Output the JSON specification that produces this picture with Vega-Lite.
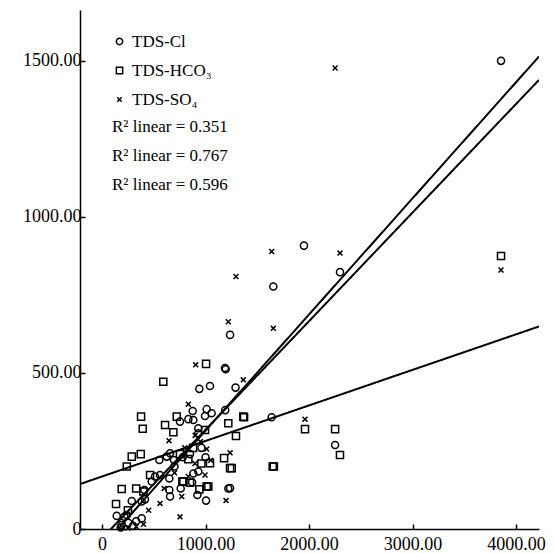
{
  "$schema": "https://vega.github.io/schema/vega-lite/v6.json",
  "width": 459,
  "height": 519,
  "autosize": {"type": "none"},
  "padding": {"left": 80, "top": 10, "right": 15, "bottom": 24},
  "background": "white",
  "datasets": {
    "pts": [
      {"s": "TDS-Cl", "x": 3855, "y": 1500}, {"s": "TDS-Cl", "x": 1951, "y": 908}, {"s": "TDS-Cl", "x": 1655, "y": 777},
      {"s": "TDS-Cl", "x": 2299, "y": 823}, {"s": "TDS-Cl", "x": 1237, "y": 622}, {"s": "TDS-Cl", "x": 1188, "y": 516},
      {"s": "TDS-Cl", "x": 1195, "y": 512}, {"s": "TDS-Cl", "x": 1043, "y": 458}, {"s": "TDS-Cl", "x": 940, "y": 449},
      {"s": "TDS-Cl", "x": 1290, "y": 453}, {"s": "TDS-Cl", "x": 1011, "y": 384}, {"s": "TDS-Cl", "x": 995, "y": 362},
      {"s": "TDS-Cl", "x": 1190, "y": 381}, {"s": "TDS-Cl", "x": 1639, "y": 358}, {"s": "TDS-Cl", "x": 2252, "y": 269},
      {"s": "TDS-Cl", "x": 1237, "y": 131}, {"s": "TDS-Cl", "x": 1220, "y": 130}, {"s": "TDS-Cl", "x": 1005, "y": 91},
      {"s": "TDS-Cl", "x": 876, "y": 378}, {"s": "TDS-Cl", "x": 753, "y": 344}, {"s": "TDS-Cl", "x": 834, "y": 352},
      {"s": "TDS-Cl", "x": 882, "y": 349}, {"s": "TDS-Cl", "x": 1059, "y": 371}, {"s": "TDS-Cl", "x": 930, "y": 307},
      {"s": "TDS-Cl", "x": 930, "y": 323}, {"s": "TDS-Cl", "x": 554, "y": 221}, {"s": "TDS-Cl", "x": 625, "y": 232},
      {"s": "TDS-Cl", "x": 657, "y": 243}, {"s": "TDS-Cl", "x": 695, "y": 221}, {"s": "TDS-Cl", "x": 882, "y": 178},
      {"s": "TDS-Cl", "x": 930, "y": 184}, {"s": "TDS-Cl", "x": 560, "y": 173}, {"s": "TDS-Cl", "x": 650, "y": 162},
      {"s": "TDS-Cl", "x": 650, "y": 125}, {"s": "TDS-Cl", "x": 657, "y": 104}, {"s": "TDS-Cl", "x": 921, "y": 109},
      {"s": "TDS-Cl", "x": 287, "y": 90}, {"s": "TDS-Cl", "x": 383, "y": 88}, {"s": "TDS-Cl", "x": 409, "y": 125},
      {"s": "TDS-Cl", "x": 415, "y": 95}, {"s": "TDS-Cl", "x": 480, "y": 152}, {"s": "TDS-Cl", "x": 512, "y": 168},
      {"s": "TDS-Cl", "x": 142, "y": 42}, {"s": "TDS-Cl", "x": 239, "y": 45}, {"s": "TDS-Cl", "x": 215, "y": 39},
      {"s": "TDS-Cl", "x": 383, "y": 34}, {"s": "TDS-Cl", "x": 190, "y": 13}, {"s": "TDS-Cl", "x": 254, "y": 20},
      {"s": "TDS-Cl", "x": 300, "y": 10}, {"s": "TDS-Cl", "x": 330, "y": 25}, {"s": "TDS-Cl", "x": 180, "y": 5},
      {"s": "TDS-Cl", "x": 850, "y": 240}, {"s": "TDS-Cl", "x": 780, "y": 230}, {"s": "TDS-Cl", "x": 960, "y": 260},
      {"s": "TDS-Cl", "x": 1000, "y": 230}, {"s": "TDS-Cl", "x": 870, "y": 150}, {"s": "TDS-Cl", "x": 760, "y": 130},
      {"s": "TDS-Cl", "x": 700, "y": 200},
      {"s": "TDS-HCO₃", "x": 3855, "y": 875}, {"s": "TDS-HCO₃", "x": 1005, "y": 529}, {"s": "TDS-HCO₃", "x": 592, "y": 472},
      {"s": "TDS-HCO₃", "x": 1372, "y": 358}, {"s": "TDS-HCO₃", "x": 1365, "y": 360}, {"s": "TDS-HCO₃", "x": 1220, "y": 339},
      {"s": "TDS-HCO₃", "x": 1961, "y": 320}, {"s": "TDS-HCO₃", "x": 2252, "y": 320}, {"s": "TDS-HCO₃", "x": 2299, "y": 237},
      {"s": "TDS-HCO₃", "x": 1294, "y": 298}, {"s": "TDS-HCO₃", "x": 1649, "y": 200}, {"s": "TDS-HCO₃", "x": 1660, "y": 200},
      {"s": "TDS-HCO₃", "x": 1253, "y": 195}, {"s": "TDS-HCO₃", "x": 995, "y": 317}, {"s": "TDS-HCO₃", "x": 1179, "y": 227},
      {"s": "TDS-HCO₃", "x": 1043, "y": 211}, {"s": "TDS-HCO₃", "x": 1237, "y": 195}, {"s": "TDS-HCO₃", "x": 1011, "y": 136},
      {"s": "TDS-HCO₃", "x": 377, "y": 360}, {"s": "TDS-HCO₃", "x": 393, "y": 321}, {"s": "TDS-HCO₃", "x": 722, "y": 360},
      {"s": "TDS-HCO₃", "x": 609, "y": 333}, {"s": "TDS-HCO₃", "x": 689, "y": 310}, {"s": "TDS-HCO₃", "x": 287, "y": 232},
      {"s": "TDS-HCO₃", "x": 374, "y": 240}, {"s": "TDS-HCO₃", "x": 239, "y": 200}, {"s": "TDS-HCO₃", "x": 753, "y": 240},
      {"s": "TDS-HCO₃", "x": 834, "y": 224}, {"s": "TDS-HCO₃", "x": 464, "y": 173}, {"s": "TDS-HCO₃", "x": 776, "y": 152},
      {"s": "TDS-HCO₃", "x": 190, "y": 128}, {"s": "TDS-HCO₃", "x": 399, "y": 120}, {"s": "TDS-HCO₃", "x": 850, "y": 148},
      {"s": "TDS-HCO₃", "x": 940, "y": 127}, {"s": "TDS-HCO₃", "x": 135, "y": 80}, {"s": "TDS-HCO₃", "x": 786, "y": 152},
      {"s": "TDS-HCO₃", "x": 1027, "y": 136}, {"s": "TDS-HCO₃", "x": 880, "y": 260}, {"s": "TDS-HCO₃", "x": 960, "y": 210},
      {"s": "TDS-HCO₃", "x": 250, "y": 60}, {"s": "TDS-HCO₃", "x": 330, "y": 130},
      {"s": "TDS-SO₄", "x": 3855, "y": 830}, {"s": "TDS-SO₄", "x": 2252, "y": 1477}, {"s": "TDS-SO₄", "x": 1639, "y": 889},
      {"s": "TDS-SO₄", "x": 2299, "y": 884}, {"s": "TDS-SO₄", "x": 1294, "y": 809}, {"s": "TDS-SO₄", "x": 1220, "y": 664},
      {"s": "TDS-SO₄", "x": 1365, "y": 478}, {"s": "TDS-SO₄", "x": 905, "y": 526}, {"s": "TDS-SO₄", "x": 834, "y": 400},
      {"s": "TDS-SO₄", "x": 1961, "y": 352}, {"s": "TDS-SO₄", "x": 1655, "y": 643}, {"s": "TDS-SO₄", "x": 1237, "y": 244},
      {"s": "TDS-SO₄", "x": 1011, "y": 256}, {"s": "TDS-SO₄", "x": 647, "y": 283}, {"s": "TDS-SO₄", "x": 898, "y": 210},
      {"s": "TDS-SO₄", "x": 995, "y": 173}, {"s": "TDS-SO₄", "x": 834, "y": 168}, {"s": "TDS-SO₄", "x": 1198, "y": 91},
      {"s": "TDS-SO₄", "x": 770, "y": 104}, {"s": "TDS-SO₄", "x": 560, "y": 82}, {"s": "TDS-SO₄", "x": 753, "y": 39},
      {"s": "TDS-SO₄", "x": 200, "y": 5}, {"s": "TDS-SO₄", "x": 250, "y": 3}, {"s": "TDS-SO₄", "x": 330, "y": 8},
      {"s": "TDS-SO₄", "x": 400, "y": 15}, {"s": "TDS-SO₄", "x": 450, "y": 60}, {"s": "TDS-SO₄", "x": 600, "y": 130},
      {"s": "TDS-SO₄", "x": 700, "y": 180}, {"s": "TDS-SO₄", "x": 900, "y": 300}, {"s": "TDS-SO₄", "x": 950, "y": 280},
      {"s": "TDS-SO₄", "x": 1050, "y": 220}, {"s": "TDS-SO₄", "x": 800, "y": 260}
    ],
    "fits": [
      {"fit": "R² linear = 0.351", "x": -213, "y": 144}, {"fit": "R² linear = 0.351", "x": 4222, "y": 649},
      {"fit": "R² linear = 0.767", "x": -213, "y": -136}, {"fit": "R² linear = 0.767", "x": 4222, "y": 1514},
      {"fit": "R² linear = 0.596", "x": -213, "y": -104}, {"fit": "R² linear = 0.596", "x": 4222, "y": 1439}
    ]
  },
  "layer": [
    {
      "data": {"name": "fits"},
      "mark": {"type": "line", "color": "black", "strokeWidth": 2, "clip": true},
      "encoding": {
        "x": {
          "field": "x", "type": "quantitative",
          "scale": {"domain": [-213, 4222], "nice": false, "zero": false},
          "axis": {"values": [0, 1000, 2000, 3000, 4000], "labelExpr": "datum.value == 0 ? '0' : format(datum.value, '.2f')", "labelPadding": 11, "tickSize": -5}
        },
        "y": {
          "field": "y", "type": "quantitative",
          "scale": {"domain": [0, 1663], "nice": false, "zero": false},
          "axis": {"values": [0, 500, 1000, 1500], "labelExpr": "datum.value == 0 ? '0' : format(datum.value, '.2f')", "labelPadding": 4, "tickSize": -5}
        },
        "strokeDash": {
          "field": "fit", "type": "nominal",
          "scale": {"domain": ["R² linear = 0.351", "R² linear = 0.767", "R² linear = 0.596"], "range": [[1, 0], [1, 0], [1, 0]]},
          "legend": {
            "title": null, "orient": "none", "legendX": 15, "legendY": 108, "padding": 0,
            "symbolOpacity": 0, "symbolSize": 1, "symbolStrokeWidth": 0, "labelOffset": 0,
            "rowPadding": 11, "labelFont": "Liberation Serif", "labelFontSize": 17, "labelColor": "black"
          }
        }
      }
    },
    {
      "data": {"name": "pts"},
      "mark": {"type": "point", "filled": false, "stroke": "black", "strokeWidth": 1.5, "size": 50, "opacity": 1},
      "encoding": {
        "x": {"field": "x", "type": "quantitative"},
        "y": {"field": "y", "type": "quantitative"},
        "shape": {
          "field": "s", "type": "nominal",
          "scale": {"domain": ["TDS-Cl", "TDS-HCO₃", "TDS-SO₄"], "range": ["circle", "square", "M-0.7,-0.7L0.7,0.7M-0.7,0.7L0.7,-0.7"]},
          "legend": {
            "title": null, "orient": "none", "legendX": 31, "legendY": 23, "padding": 0,
            "symbolSize": 40, "symbolStrokeWidth": 1.5, "symbolStrokeColor": "black", "labelOffset": 4,
            "rowPadding": 11, "labelFont": "Liberation Serif", "labelFontSize": 17, "labelColor": "black"
          }
        }
      }
    }
  ],
  "resolve": {"legend": {"shape": "independent", "strokeDash": "independent"}},
  "config": {
    "view": {"stroke": null},
    "axis": {
      "grid": false, "title": null, "domainColor": "black", "domainWidth": 1.5, "tickColor": "black", "tickWidth": 1.5,
      "labelFont": "Liberation Serif", "labelFontSize": 18, "labelColor": "black"
    }
  }
}
